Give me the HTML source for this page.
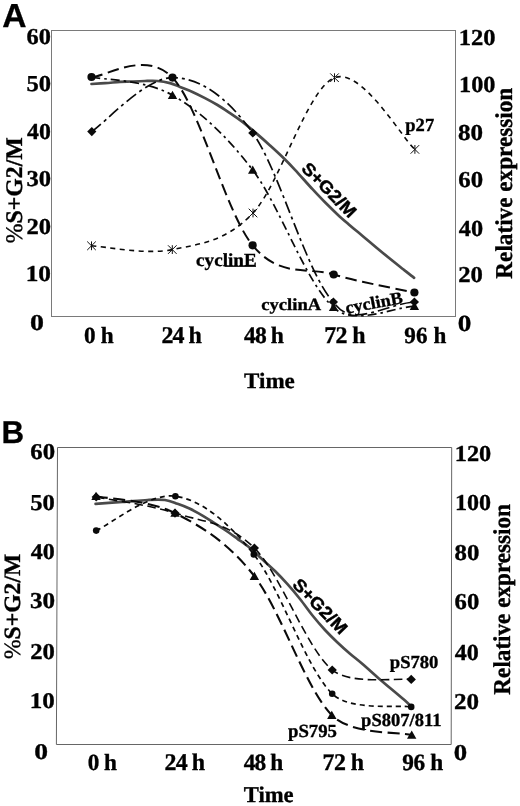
<!DOCTYPE html>
<html><head><meta charset="utf-8"><title>Figure</title>
<style>html,body{margin:0;padding:0;background:#fff}svg{display:block}</style></head>
<body>
<svg width="520" height="806" viewBox="0 0 520 806" font-family="'Liberation Serif', serif" font-weight="bold" fill="#000" text-rendering="geometricPrecision" xml:space="preserve">
<rect width="520" height="806" fill="#fff"/>
<rect x="51.5" y="30.5" width="404.0" height="286.0" fill="none" stroke="#7a7a7a" stroke-width="1"/>
<text x="2.37" y="26.64" font-family="'Liberation Sans', sans-serif" font-size="33.28" textLength="24.3" lengthAdjust="spacingAndGlyphs" stroke="#000" stroke-width="0.3">A</text>
<text x="26.59" y="43.69" font-size="22.72" textLength="24.33" lengthAdjust="spacingAndGlyphs" stroke="#000" stroke-width="0.35">60</text>
<text x="26.43" y="91.19" font-size="22.79" textLength="24.61" lengthAdjust="spacingAndGlyphs" stroke="#000" stroke-width="0.35">50</text>
<text x="27.13" y="139.04" font-size="22.77" textLength="23.79" lengthAdjust="spacingAndGlyphs" stroke="#000" stroke-width="0.35">40</text>
<text x="26.49" y="186.48" font-size="22.76" textLength="24.57" lengthAdjust="spacingAndGlyphs" stroke="#000" stroke-width="0.35">30</text>
<text x="26.51" y="233.65" font-size="22.82" textLength="24.59" lengthAdjust="spacingAndGlyphs" stroke="#000" stroke-width="0.35">20</text>
<text x="25.66" y="280.67" font-size="22.73" textLength="25.3" lengthAdjust="spacingAndGlyphs" stroke="#000" stroke-width="0.35">10</text>
<text x="29.91" y="329.83" font-size="22.63" textLength="13.93" lengthAdjust="spacingAndGlyphs" stroke="#000" stroke-width="0.35">0</text>
<text x="458.77" y="45.22" font-size="22.83" textLength="36.81" lengthAdjust="spacingAndGlyphs" stroke="#000" stroke-width="0.35">120</text>
<text x="459.07" y="91.85" font-size="22.86" textLength="36.42" lengthAdjust="spacingAndGlyphs" stroke="#000" stroke-width="0.35">100</text>
<text x="458.05" y="140.07" font-size="22.78" textLength="25.05" lengthAdjust="spacingAndGlyphs" stroke="#000" stroke-width="0.35">80</text>
<text x="458.25" y="187.02" font-size="22.77" textLength="24.81" lengthAdjust="spacingAndGlyphs" stroke="#000" stroke-width="0.35">60</text>
<text x="458.89" y="235.56" font-size="22.95" textLength="24.28" lengthAdjust="spacingAndGlyphs" stroke="#000" stroke-width="0.35">40</text>
<text x="458.22" y="281.68" font-size="22.63" textLength="24.68" lengthAdjust="spacingAndGlyphs" stroke="#000" stroke-width="0.35">20</text>
<text x="457.67" y="331.44" font-size="23.22" textLength="13.59" lengthAdjust="spacingAndGlyphs" stroke="#000" stroke-width="0.35">0</text>
<text x="84.02" y="343" font-size="23.19" textLength="29.75" lengthAdjust="spacing" stroke="#000" stroke-width="0.35">0 h</text>
<text x="161.48" y="343" font-size="23.96" textLength="40.25" lengthAdjust="spacing" stroke="#000" stroke-width="0.35">24 h</text>
<text x="243.98" y="343" font-size="23.56" textLength="39.95" lengthAdjust="spacing" stroke="#000" stroke-width="0.35">48 h</text>
<text x="324.21" y="343" font-size="23.93" textLength="41.29" lengthAdjust="spacing" stroke="#000" stroke-width="0.35">72 h</text>
<text x="404.24" y="343" font-size="23.11" textLength="42.12" lengthAdjust="spacing" stroke="#000" stroke-width="0.35">96 h</text>
<text x="244.1" y="388.37" font-size="22.03" textLength="50.75" lengthAdjust="spacingAndGlyphs" stroke="#000" stroke-width="0.35">Time</text>
<text x="196.11" y="265.93" font-size="18.38" textLength="60.53" lengthAdjust="spacingAndGlyphs" stroke="#000" stroke-width="0.35">cyclinE</text>
<text x="261.37" y="310.14" font-size="17.03" textLength="59.75" lengthAdjust="spacingAndGlyphs" stroke="#000" stroke-width="0.35">cyclinA</text>
<text x="405.33" y="131.25" font-size="18.47" textLength="28.81" lengthAdjust="spacingAndGlyphs" stroke="#000" stroke-width="0.35">p27</text>
<text x="22.4" y="243.33" font-size="23.84" transform="rotate(-90 22.4 243.33)" textLength="106.07" lengthAdjust="spacingAndGlyphs" stroke="#000" stroke-width="0.35"><tspan font-weight="normal">%</tspan>S+G2/M</text>
<text x="512.48" y="278.63" font-size="24.18" transform="rotate(-90 512.48 278.63)" textLength="190.82" lengthAdjust="spacingAndGlyphs" stroke="#000" stroke-width="0.35">Relative expression</text>
<path d="M91.5,84.0 C93.8,83.9 100.2,83.5 105.0,83.2 C109.8,82.9 115.4,82.2 120.0,81.9 C124.6,81.6 128.3,81.7 132.5,81.5 C136.7,81.3 140.8,81.1 145.0,81.0 C149.2,80.9 153.3,80.7 157.5,81.0 C161.7,81.3 166.2,82.1 170.0,83.1 C173.8,84.1 176.2,85.4 180.0,86.9 C183.8,88.4 188.3,90.0 192.5,91.9 C196.7,93.8 200.8,95.9 205.0,98.1 C209.2,100.3 213.3,102.5 217.5,105.0 C221.7,107.5 225.8,110.3 230.0,113.1 C234.2,115.9 237.9,118.4 242.5,121.9 C247.1,125.5 252.9,130.5 257.5,134.4 C262.1,138.3 265.8,141.6 270.0,145.4 C274.2,149.2 278.3,152.9 282.5,157.0 C286.7,161.1 290.0,164.4 295.0,169.8 C300.0,175.2 307.5,183.8 312.5,189.2 C317.5,194.6 320.8,198.1 325.0,202.3 C329.2,206.5 333.3,210.5 337.5,214.4 C341.7,218.3 345.9,221.9 350.0,225.5 C354.1,229.1 356.7,231.0 362.3,235.7 C367.9,240.4 376.4,247.7 383.5,253.5 C390.6,259.3 399.5,266.3 404.6,270.4 C409.7,274.4 412.5,276.6 414.1,277.8" fill="none" stroke="#4a4a4a" stroke-width="2.7" stroke-linecap="round"/>
<path d="M91.5,77.0 C105.0,77.1 145.7,49.5 172.5,77.6 C199.3,105.6 225.7,212.5 252.6,245.3 C279.5,278.1 306.7,266.6 333.7,274.5 C360.7,282.4 400.9,289.5 414.4,292.5" fill="none" stroke="#0a0a0a" stroke-width="2" stroke-dasharray="11.5 5.5" stroke-linecap="butt"/>
<path d="M91.5,77.0 C105.0,80.0 145.6,79.7 172.5,95.2 C199.4,110.7 225.8,134.7 252.7,170.0 C279.6,205.3 306.7,284.6 333.6,307.3 C340,314 349,316 361,315.7 C380,315.2 398,307.3 414.4,306.2" fill="none" stroke="#0a0a0a" stroke-width="1.7" stroke-dasharray="9 4 2.5 4" stroke-linecap="butt"/>
<path d="M91.8,131.6 C105.2,122.6 145.7,77.4 172.5,77.6 C199.3,77.8 226.0,95.6 252.8,133.0 C279.6,170.4 306.5,273.8 333.4,302.0 C338.5,309 345,314.6 355,314.8 C374,315 394,303.6 414.4,302" fill="none" stroke="#0a0a0a" stroke-width="1.7" stroke-dasharray="12 4 3 4" stroke-linecap="butt"/>
<path d="M91.5,245.8 C105.0,246.4 145.4,255.1 172.3,249.6 C199.2,244.1 226.0,241.7 253.0,213.0 C280.0,184.3 307.5,88.3 334.5,77.7 C361.5,67.1 401.5,137.5 414.9,149.4" fill="none" stroke="#0a0a0a" stroke-width="1.6" stroke-dasharray="5 4.5" stroke-linecap="butt"/>
<circle cx="91.5" cy="77.0" r="4.1" fill="#0a0a0a"/>
<circle cx="172.5" cy="77.6" r="4.1" fill="#0a0a0a"/>
<circle cx="252.6" cy="245.3" r="4.1" fill="#0a0a0a"/>
<circle cx="333.7" cy="274.5" r="4.1" fill="#0a0a0a"/>
<circle cx="414.4" cy="292.5" r="4.1" fill="#0a0a0a"/>
<path d="M172.5,90.7 L177.2,98.9 L167.8,98.9 Z" fill="#0a0a0a"/>
<path d="M252.7,165.5 L257.4,173.7 L248.0,173.7 Z" fill="#0a0a0a"/>
<path d="M333.6,302.8 L338.3,311.0 L328.9,311.0 Z" fill="#0a0a0a"/>
<path d="M414.4,301.7 L419.1,309.9 L409.7,309.9 Z" fill="#0a0a0a"/>
<path d="M91.8,127.0 L96.4,131.6 L91.8,136.2 L87.2,131.6 Z" fill="#0a0a0a"/>
<path d="M252.8,128.4 L257.4,133.0 L252.8,137.6 L248.2,133.0 Z" fill="#0a0a0a"/>
<path d="M333.4,297.4 L338.0,302.0 L333.4,306.6 L328.8,302.0 Z" fill="#0a0a0a"/>
<path d="M414.4,297.4 L419.0,302.0 L414.4,306.6 L409.8,302.0 Z" fill="#0a0a0a"/>
<path d="M91.5,241.4 V250.2 M87.2,241.5 L95.8,250.1 M87.2,250.1 L95.8,241.5" stroke="#111" stroke-width="1" fill="none"/>
<path d="M172.3,245.2 V254.0 M168.0,245.3 L176.6,253.9 M168.0,253.9 L176.6,245.3" stroke="#111" stroke-width="1" fill="none"/>
<path d="M253.0,208.6 V217.4 M248.7,208.7 L257.3,217.3 M248.7,217.3 L257.3,208.7" stroke="#111" stroke-width="1" fill="none"/>
<path d="M334.5,73.3 V82.1 M330.2,73.4 L338.8,82.0 M330.2,82.0 L338.8,73.4" stroke="#111" stroke-width="1" fill="none"/>
<path d="M414.9,145.0 V153.8 M410.6,145.1 L419.2,153.7 M410.6,153.7 L419.2,145.1" stroke="#111" stroke-width="1" fill="none"/>
<text x="346.6" y="313.8" font-size="17.4" transform="rotate(-10.8 346.6 313.8)" stroke="#000" stroke-width="0.35" textLength="58" lengthAdjust="spacingAndGlyphs">cyclinB</text>
<path d="M224.5,266.4 H256" stroke="#111" stroke-width="1"/>
<text x="300.4" y="169.4" font-family="'Liberation Sans', sans-serif" font-size="17.5" transform="rotate(45.3 300.4 169.4)" stroke="#000" stroke-width="0.45" textLength="69.5" lengthAdjust="spacingAndGlyphs">S+G2/M</text>
<path d="M57.5,447.5 H451.7 L451.2,744.5 H56.4 Z" fill="none" stroke="#666" stroke-width="1"/>
<text x="1.62" y="442.84" font-family="'Liberation Sans', sans-serif" font-size="31.57" textLength="22.61" lengthAdjust="spacingAndGlyphs" stroke="#000" stroke-width="0.3">B</text>
<text x="30.29" y="459.41" font-size="22.56" textLength="24.78" lengthAdjust="spacingAndGlyphs" stroke="#000" stroke-width="0.35">60</text>
<text x="30.29" y="509.51" font-size="22.76" textLength="24.57" lengthAdjust="spacingAndGlyphs" stroke="#000" stroke-width="0.35">50</text>
<text x="30.8" y="558.5" font-size="22.54" textLength="24.06" lengthAdjust="spacingAndGlyphs" stroke="#000" stroke-width="0.35">40</text>
<text x="30.07" y="608.37" font-size="22.74" textLength="25.1" lengthAdjust="spacingAndGlyphs" stroke="#000" stroke-width="0.35">30</text>
<text x="30.24" y="659.14" font-size="22.58" textLength="24.7" lengthAdjust="spacingAndGlyphs" stroke="#000" stroke-width="0.35">20</text>
<text x="29.85" y="707.53" font-size="22.41" textLength="25.05" lengthAdjust="spacingAndGlyphs" stroke="#000" stroke-width="0.35">10</text>
<text x="34.15" y="759.35" font-size="22.48" textLength="13.79" lengthAdjust="spacingAndGlyphs" stroke="#000" stroke-width="0.35">0</text>
<text x="454.79" y="461.36" font-size="22.82" textLength="36.46" lengthAdjust="spacingAndGlyphs" stroke="#000" stroke-width="0.35">120</text>
<text x="455.09" y="510.25" font-size="22.85" textLength="36.07" lengthAdjust="spacingAndGlyphs" stroke="#000" stroke-width="0.35">100</text>
<text x="454.58" y="559.91" font-size="22.75" textLength="24.82" lengthAdjust="spacingAndGlyphs" stroke="#000" stroke-width="0.35">80</text>
<text x="454.61" y="608.99" font-size="22.81" textLength="24.67" lengthAdjust="spacingAndGlyphs" stroke="#000" stroke-width="0.35">60</text>
<text x="454.82" y="660.25" font-size="22.86" textLength="24.09" lengthAdjust="spacingAndGlyphs" stroke="#000" stroke-width="0.35">40</text>
<text x="453.91" y="709.07" font-size="22.68" textLength="25.07" lengthAdjust="spacingAndGlyphs" stroke="#000" stroke-width="0.35">20</text>
<text x="453.8" y="759.78" font-size="22.63" textLength="13.39" lengthAdjust="spacingAndGlyphs" stroke="#000" stroke-width="0.35">0</text>
<text x="87.83" y="770" font-size="23.2" textLength="29.17" lengthAdjust="spacing" stroke="#000" stroke-width="0.35">0 h</text>
<text x="164.6" y="770" font-size="23.88" textLength="40.43" lengthAdjust="spacing" stroke="#000" stroke-width="0.35">24 h</text>
<text x="243.86" y="770" font-size="23.34" textLength="39.26" lengthAdjust="spacing" stroke="#000" stroke-width="0.35">48 h</text>
<text x="322.55" y="770" font-size="23.86" textLength="41.45" lengthAdjust="spacing" stroke="#000" stroke-width="0.35">72 h</text>
<text x="402.24" y="770" font-size="23.3" textLength="40.96" lengthAdjust="spacing" stroke="#000" stroke-width="0.35">96 h</text>
<text x="243.76" y="801.93" font-size="22.53" textLength="49.83" lengthAdjust="spacingAndGlyphs" stroke="#000" stroke-width="0.35">Time</text>
<text x="389.82" y="667.95" font-size="18.28" textLength="48.59" lengthAdjust="spacingAndGlyphs" stroke="#000" stroke-width="0.35">pS780</text>
<text x="361.11" y="725.72" font-size="18.4" textLength="80.31" lengthAdjust="spacingAndGlyphs" stroke="#000" stroke-width="0.35">pS807/811</text>
<text x="287.94" y="736.85" font-size="18.53" textLength="49.04" lengthAdjust="spacingAndGlyphs" stroke="#000" stroke-width="0.35">pS795</text>
<text x="20.25" y="659.05" font-size="23.36" transform="rotate(-90 20.25 659.05)" textLength="105.3" lengthAdjust="spacingAndGlyphs" stroke="#000" stroke-width="0.35"><tspan font-weight="normal">%</tspan>S+G2/M</text>
<text x="509.86" y="694.63" font-size="24.23" transform="rotate(-90 509.86 694.63)" textLength="190.64" lengthAdjust="spacingAndGlyphs" stroke="#000" stroke-width="0.35">Relative expression</text>
<path d="M95.6,503.8 C100.1,503.4 113.8,502.5 122.5,501.9 C131.2,501.3 140.4,500.3 147.5,500.0 C154.6,499.7 160.0,499.4 165.0,500.0 C170.0,500.6 173.3,502.3 177.5,503.8 C181.7,505.2 185.8,506.8 190.0,508.8 C194.2,510.7 198.8,513.4 202.5,515.6 C206.2,517.8 208.8,519.5 212.5,521.9 C216.2,524.3 220.8,527.2 225.0,530.0 C229.2,532.8 233.3,535.8 237.5,538.8 C241.7,541.8 245.8,544.5 250.0,548.0 C254.2,551.5 258.3,555.7 262.5,559.5 C266.7,563.3 270.8,566.9 275.0,571.0 C279.2,575.1 283.3,579.5 287.5,584.2 C291.7,588.9 295.8,593.8 300.0,599.0 C304.2,604.2 308.3,610.3 312.5,615.5 C316.7,620.7 320.8,625.5 325.0,630.0 C329.2,634.5 333.3,638.5 337.5,642.5 C341.7,646.5 345.8,650.2 350.0,653.8 C354.2,657.3 357.5,659.7 362.5,664.0 C367.5,668.3 375.0,675.1 380.0,679.4 C385.0,683.7 388.3,686.5 392.5,690.0 C396.7,693.5 401.9,697.9 405.0,700.6 C408.1,703.4 410.2,705.5 411.2,706.5" fill="none" stroke="#4a4a4a" stroke-width="2.7" stroke-linecap="round"/>
<path d="M96.2,497.0 C109.3,499.7 148.6,504.6 175.0,513.1 C201.4,521.6 228.2,522.0 254.4,548.1 C280.6,574.2 306.1,648.1 332.2,670.0 C350.3,685.1 398.1,677.8 411.2,679.4" fill="none" stroke="#0a0a0a" stroke-width="1.6" stroke-dasharray="8.5 4.5" stroke-linecap="butt"/>
<path d="M96.2,530.6 C109.4,524.9 149.1,492.3 175.4,496.2 C201.7,500.2 227.6,521.5 253.8,554.4 C279.9,587.3 306.0,668.3 332.2,693.8 C350.4,711.3 398.1,704.7 411.2,706.9" fill="none" stroke="#0a0a0a" stroke-width="1.7" stroke-dasharray="5 4" stroke-linecap="butt"/>
<path d="M96.0,496.2 C109.2,499.1 148.6,499.8 175.0,513.1 C201.4,526.4 228.3,542.6 254.4,576.2 C280.5,609.9 305.6,688.7 331.8,715.2 C351.5,735.0 398.4,731.7 411.7,735.0" fill="none" stroke="#0a0a0a" stroke-width="2.1" stroke-dasharray="12 5.5" stroke-linecap="butt"/>
<path d="M96.2,492.4 L100.8,497.0 L96.2,501.6 L91.6,497.0 Z" fill="#0a0a0a"/>
<path d="M175.0,508.5 L179.6,513.1 L175.0,517.7 L170.4,513.1 Z" fill="#0a0a0a"/>
<path d="M254.4,543.5 L259.0,548.1 L254.4,552.7 L249.8,548.1 Z" fill="#0a0a0a"/>
<path d="M332.2,665.4 L336.9,670.0 L332.2,674.6 L327.6,670.0 Z" fill="#0a0a0a"/>
<path d="M411.2,674.8 L415.9,679.4 L411.2,684.0 L406.6,679.4 Z" fill="#0a0a0a"/>
<circle cx="96.2" cy="530.6" r="3.3" fill="#0a0a0a"/>
<circle cx="175.4" cy="496.2" r="3.3" fill="#0a0a0a"/>
<circle cx="253.8" cy="554.4" r="3.3" fill="#0a0a0a"/>
<circle cx="332.2" cy="693.8" r="3.3" fill="#0a0a0a"/>
<circle cx="411.2" cy="706.9" r="3.3" fill="#0a0a0a"/>
<path d="M96.0,491.7 L100.7,499.9 L91.3,499.9 Z" fill="#0a0a0a"/>
<path d="M175.0,508.6 L179.7,516.8 L170.3,516.8 Z" fill="#0a0a0a"/>
<path d="M254.4,571.7 L259.1,579.9 L249.7,579.9 Z" fill="#0a0a0a"/>
<path d="M331.8,710.7 L336.5,718.9 L327.1,718.9 Z" fill="#0a0a0a"/>
<path d="M411.7,730.5 L416.4,738.7 L407.0,738.7 Z" fill="#0a0a0a"/>
<text x="291.6" y="585.6" font-family="'Liberation Sans', sans-serif" font-size="17.5" transform="rotate(45.8 291.6 585.6)" stroke="#000" stroke-width="0.45" textLength="69.5" lengthAdjust="spacingAndGlyphs">S+G2/M</text>
</svg>
</body></html>
